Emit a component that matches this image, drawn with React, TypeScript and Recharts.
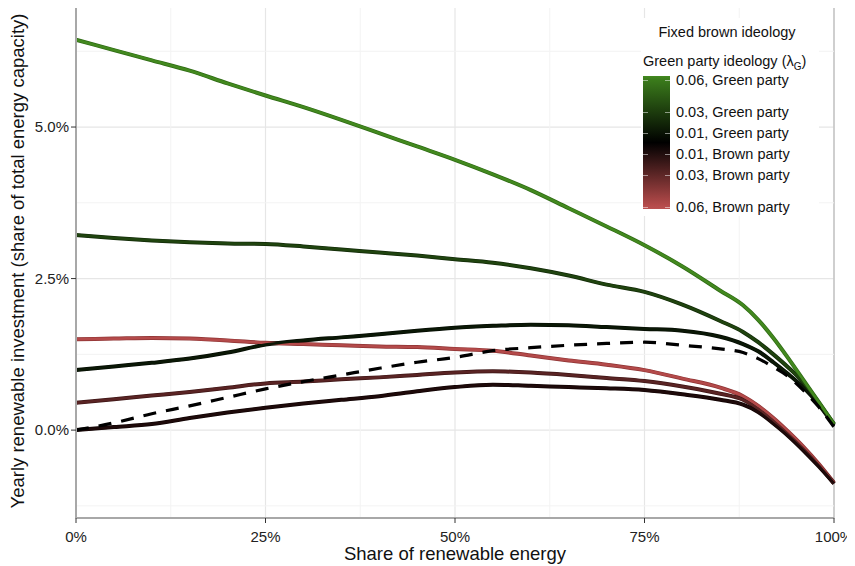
import React from "react";
import {
  LineChart,
  Line,
  XAxis,
  YAxis,
  CartesianGrid,
  ReferenceLine,
  ReferenceArea,
  Label,
} from "recharts";

// share of renewable energy (%)
const shares = [0, 5, 10, 15, 20, 25, 30, 35, 40, 45, 50, 55, 60, 65, 70, 75, 80, 85, 88, 90, 92, 94, 96, 98, 100];

// yearly renewable investment (% of total capacity)
const green06 = [6.44, 6.27, 6.1, 5.93, 5.72, 5.52, 5.33, 5.12, 4.9, 4.68, 4.46, 4.22, 3.96, 3.66, 3.36, 3.05, 2.7, 2.3, 2.06, 1.82, 1.52, 1.18, 0.82, 0.46, 0.1];
const green03 = [3.22, 3.17, 3.13, 3.1, 3.08, 3.07, 3.03, 2.98, 2.93, 2.88, 2.82, 2.76, 2.67, 2.55, 2.4, 2.28, 2.07, 1.8, 1.62, 1.45, 1.25, 1.03, 0.78, 0.45, 0.1];
const green01 = [0.99, 1.05, 1.11, 1.18, 1.28, 1.41, 1.48, 1.53, 1.58, 1.64, 1.69, 1.72, 1.74, 1.73, 1.7, 1.67, 1.64, 1.54, 1.42, 1.3, 1.12, 0.92, 0.7, 0.42, 0.08];
const brown01 = [0.0, 0.05, 0.1, 0.2, 0.29, 0.37, 0.44, 0.5, 0.56, 0.64, 0.71, 0.75, 0.73, 0.71, 0.69, 0.66, 0.59, 0.5, 0.42, 0.3, 0.11, -0.1, -0.34, -0.6, -0.88];
const brown03 = [0.45, 0.51, 0.57, 0.63, 0.7, 0.77, 0.8, 0.84, 0.87, 0.91, 0.95, 0.97, 0.95, 0.91, 0.86, 0.81, 0.72, 0.6, 0.5, 0.35, 0.15, -0.07, -0.31, -0.58, -0.88];
const brown06 = [1.5, 1.51, 1.52, 1.51, 1.48, 1.44, 1.42, 1.4, 1.38, 1.37, 1.34, 1.31, 1.23, 1.15, 1.08, 0.99, 0.85, 0.7, 0.56, 0.4, 0.2, -0.03, -0.28, -0.56, -0.87];
const fixedBrown = [0.0, 0.12, 0.27, 0.4, 0.54, 0.68, 0.8, 0.91, 1.02, 1.12, 1.2, 1.31, 1.36, 1.4, 1.43, 1.45, 1.4, 1.34, 1.28, 1.18, 1.04, 0.88, 0.65, 0.38, 0.05];

const xTicks = [0, 25, 50, 75, 100];
const yTicks = [0, 2.5, 5];
const xMinor = [12.5, 37.5, 62.5, 87.5];
const yMinor = [-1.25, 1.25, 3.75, 6.25];

const legendLabels = [
  "0.06, Green party",
  "0.03, Green party",
  "0.01, Green party",
  "0.01, Brown party",
  "0.03, Brown party",
  "0.06, Brown party",
];

const data = shares.map((x, i) => ({
  x,
  green06: green06[i],
  green03: green03[i],
  green01: green01[i],
  brown01: brown01[i],
  brown03: brown03[i],
  brown06: brown06[i],
  fixed: fixedBrown[i],
}));

// drawn bottom first
const series = [
  { key: "brown06", color: "#b44a4a", edge: "#8e3434" },
  { key: "brown03", color: "#5a2424", edge: "#3e1616" },
  { key: "brown01", color: "#1e0a0a", edge: "#120404" },
  { key: "green01", color: "#0b1806", edge: "#050d03" },
  { key: "green03", color: "#20440f", edge: "#122a08" },
  { key: "green06", color: "#43891f", edge: "#2e6a14" },
];

const FONT = "'Liberation Sans', Arial, Helvetica, sans-serif";

function Legend() {
  const barTop = 76;
  const barH = 133;
  const labelY = [80, 111.7, 132.7, 154, 175, 206.7];
  return (
    <div
      style={{
        position: "absolute",
        left: 641,
        top: 18,
        width: 178,
        height: 198,
        background: "#fff",
        fontFamily: FONT,
        color: "#111",
        fontSize: 14.5,
      }}
    >
      <div style={{ position: "absolute", left: 0, width: 172, top: 6, textAlign: "center" }}>
        Fixed brown ideology
      </div>
      <div style={{ position: "absolute", left: 2, top: 35, whiteSpace: "nowrap" }}>
        Green party ideology (λ<sub style={{ fontSize: 10 }}>G</sub>)
      </div>
      <div
        style={{
          position: "absolute",
          left: 2,
          top: barTop - 18,
          width: 27,
          height: barH,
          background:
            "linear-gradient(to bottom, #43891f 0%, #3a7a1b 3%, #000 50%, #b44a4a 97%, #bb5050 100%)",
        }}
      />
      {labelY.map((y, i) => (
        <React.Fragment key={i}>
          <div style={{ position: "absolute", left: 2, top: y - 18, width: 5, height: 1, background: "rgba(255,255,255,0.5)" }} />
          <div style={{ position: "absolute", left: 24, top: y - 18, width: 5, height: 1, background: "rgba(255,255,255,0.5)" }} />
          <div style={{ position: "absolute", left: 35, top: y - 18 - 9, whiteSpace: "nowrap", lineHeight: "18px" }}>
            {legendLabels[i]}
          </div>
        </React.Fragment>
      ))}
    </div>
  );
}

export default function App() {
  return (
    <div
      style={{
        position: "relative",
        width: 855,
        height: 566,
        marginLeft: -8,
        marginTop: -8,
        background: "#fff",
      }}
    >
      <LineChart
        width={855}
        height={566}
        data={data}
        margin={{ top: 4, right: 21, left: 0, bottom: 0 }}
      >
        <CartesianGrid
          stroke="#e6e6e6"
          strokeWidth={1.2}
          horizontalValues={yTicks}
          verticalValues={xTicks}
        />
        {yMinor.map((v) => (
          <ReferenceLine key={"ym" + v} y={v} stroke="#f3f3f3" strokeWidth={1} />
        ))}
        {xMinor.map((v) => (
          <ReferenceLine key={"xm" + v} x={v} stroke="#f3f3f3" strokeWidth={1} />
        ))}
        <ReferenceArea
          x1={0}
          x2={100}
          y1={-1.45}
          y2={7.03}
          fill="none"
          stroke="#c4c4c4"
          strokeWidth={1.5}
          ifOverflow="visible"
        />
        <XAxis
          type="number"
          dataKey="x"
          domain={[0, 100]}
          ticks={xTicks}
          tickFormatter={(v: number) => `${v}%`}
          height={48}
          tickSize={5}
          tickMargin={8}
          tick={{ fill: "#222", fontSize: 15, fontFamily: FONT }}
          tickLine={{ stroke: "#333" }}
          axisLine={{ stroke: "#a8a8a8", strokeWidth: 2 }}
        >
          <Label
            content={(props: any) => {
              const vb = props.viewBox || { x: 76, width: 758 };
              return (
                <text
                  x={vb.x + vb.width / 2}
                  y={560}
                  textAnchor="middle"
                  fontSize={18.5}
                  fontFamily={FONT}
                  fill="#111"
                >
                  Share of renewable energy
                </text>
              );
            }}
          />
        </XAxis>
        <YAxis
          type="number"
          domain={[-1.45, 7.03]}
          allowDataOverflow
          ticks={yTicks}
          tickFormatter={(v: number) => `${v.toFixed(1)}%`}
          width={76}
          tickSize={5}
          tick={{ fill: "#222", fontSize: 15, fontFamily: FONT }}
          tickLine={{ stroke: "#333" }}
          axisLine={{ stroke: "#a8a8a8", strokeWidth: 2 }}
        >
          <Label
            content={(props: any) => {
              const vb = props.viewBox || { x: 0, y: 4, height: 514 };
              const cx = 17;
              const cy = vb.y + vb.height / 2;
              return (
                <text
                  x={cx}
                  y={cy}
                  transform={`rotate(-90 ${cx} ${cy})`}
                  textAnchor="middle"
                  dominantBaseline="central"
                  fontSize={18.5}
                  fontFamily={FONT}
                  fill="#111"
                >
                  Yearly renewable investment (share of total energy capacity)
                </text>
              );
            }}
          />
        </YAxis>
        {series.map((s) => (
          <Line
            key={s.key + "-edge"}
            type="monotone"
            dataKey={s.key}
            stroke={s.edge}
            strokeWidth={4}
            dot={false}
            activeDot={false}
            isAnimationActive={false}
          />
        ))}
        {series.map((s) => (
          <Line
            key={s.key}
            type="monotone"
            dataKey={s.key}
            stroke={s.color}
            strokeWidth={2.6}
            dot={false}
            activeDot={false}
            isAnimationActive={false}
          />
        ))}
        <Line
          type="monotone"
          dataKey="fixed"
          stroke="#000"
          strokeWidth={3.2}
          strokeDasharray="13 10"
          dot={false}
          activeDot={false}
          isAnimationActive={false}
        />
      </LineChart>
      <Legend />
    </div>
  );
}
